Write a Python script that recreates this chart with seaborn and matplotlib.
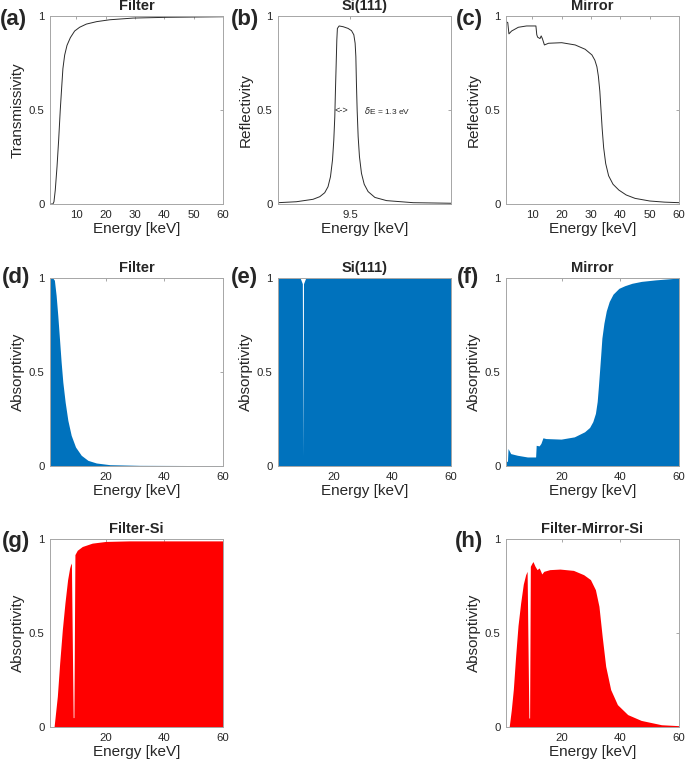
import matplotlib
matplotlib.use("Agg")
import matplotlib.pyplot as plt
import seaborn as sns

# values (energies in keV)

# (a) filter transmissivity
filter_e = [1.0, 2.0, 2.35, 2.8, 3.4, 3.95, 4.5, 5.0, 5.4, 6.0, 6.8, 7.95, 9.4, 11.1, 13.4,
            16.9, 21.4, 29.4, 40.8, 60.0]
filter_t = [0.0, 0.0, 0.012, 0.074, 0.2, 0.34, 0.5, 0.624, 0.72, 0.792, 0.844, 0.885, 0.92,
            0.94, 0.957, 0.97, 0.98, 0.989, 0.993, 0.996]

# (b) Si(111) reflectivity, offset from 9.5 keV in eV
si_de_ev = [-5.0, -3.73, -2.57, -2.1, -1.76, -1.53, -1.36, -1.22, -1.13, -1.06, -1.02, -0.97,
            -0.92, -0.88, -0.76, -0.48, -0.14, 0.1, 0.26, 0.35, 0.4, 0.44, 0.49, 0.56, 0.65,
            0.79, 0.98, 1.25, 1.72, 2.53, 4.38, 7.0]
si_r = [0.007, 0.012, 0.025, 0.039, 0.06, 0.092, 0.145, 0.234, 0.34, 0.465, 0.59, 0.73,
        0.872, 0.934, 0.947, 0.943, 0.934, 0.922, 0.9, 0.855, 0.784, 0.642, 0.5, 0.358,
        0.252, 0.163, 0.105, 0.066, 0.035, 0.018, 0.007, 0.004]

# (c) mirror reflectivity
mirror_e = [1.0, 1.6, 2.0, 2.9, 5.2, 8.0, 11.2, 11.5, 11.8, 12.6, 13.0, 13.4, 14.1, 15.5,
            20.0, 24.6, 28.0, 30.3, 31.3, 32.0, 32.5, 33.0, 33.4, 33.8, 34.3, 35.0, 36.0,
            37.5, 39.5, 42.0, 45.0, 50.0, 55.0, 60.0]
mirror_r = [0.97, 0.965, 0.905, 0.92, 0.94, 0.947, 0.947, 0.9, 0.887, 0.88, 0.894, 0.88,
            0.846, 0.855, 0.858, 0.846, 0.823, 0.793, 0.765, 0.73, 0.68, 0.6, 0.5, 0.4,
            0.3, 0.215, 0.15, 0.105, 0.074, 0.048, 0.03, 0.016, 0.01, 0.007]

# (d) filter absorptivity
filter_abs_e = [1.0, 1.94, 2.5, 3.09, 3.66, 4.23, 4.8, 5.37, 6.17, 7.09, 8.23, 9.71, 11.66,
                13.94, 16.8, 21.4, 31.7, 60.0]
filter_abs = [1.0, 1.0, 0.988, 0.908, 0.8, 0.677, 0.553, 0.447, 0.34, 0.243, 0.163, 0.101,
              0.057, 0.03, 0.016, 0.007, 0.0035, 0.002]

# (e) Si(111) absorptivity
si_abs_e = [1.0, 8.6, 9.3, 9.5, 9.7, 10.4, 60.0]
si_abs = [0.998, 0.998, 0.97, 0.05, 0.97, 0.998, 0.998]

# (f) mirror absorptivity
mirror_abs_e = [1.0, 1.5, 1.7, 2.6, 4.9, 8.3, 11.1, 11.3, 12.3, 12.9, 13.6, 14.6, 19.8, 24.3,
                27.8, 29.5, 30.6, 31.5, 32.1, 32.5, 32.9, 33.3, 33.7, 34.4, 35.2, 36.2, 37.5,
                39.5, 41.5, 44.0, 47.2, 52.0, 60.0]
mirror_abs = [0.025, 0.025, 0.093, 0.066, 0.057, 0.048, 0.048, 0.11, 0.107, 0.12, 0.15,
              0.146, 0.143, 0.155, 0.182, 0.205, 0.236, 0.28, 0.343, 0.42, 0.504, 0.59,
              0.68, 0.76, 0.825, 0.875, 0.914, 0.945, 0.959, 0.972, 0.982, 0.99, 1.0]

# (g) filter + Si absorptivity
fsi_e = [1.0, 2.2, 2.4, 3.5, 4.3, 5.2, 6.1, 7.0, 7.7, 8.0, 8.3, 8.9, 9.15, 9.5, 10.3, 12.0,
         15.4, 20.0, 28.0, 60.0]
fsi_abs = [0.0, 0.0, 0.003, 0.163, 0.34, 0.517, 0.66, 0.783, 0.846, 0.862, 0.872, 0.05, 0.05,
           0.917, 0.94, 0.96, 0.978, 0.987, 0.99, 0.99]

# (h) filter + mirror + Si absorptivity
fmsi_e = [1.0, 1.9, 2.1, 2.8, 3.5, 4.3, 5.1, 6.0, 6.9, 7.7, 8.2, 8.8, 9.05, 9.3, 9.8, 10.2,
          10.9, 11.6, 12.3, 12.7, 13.2, 13.9, 15.9, 19.4, 24.0, 27.5, 29.8, 31.5, 32.7,
          33.8, 35.0, 36.7, 39.0, 42.5, 47.1, 54.0, 60.0]
fmsi_abs = [0.0, 0.0, 0.003, 0.09, 0.2, 0.38, 0.54, 0.66, 0.76, 0.81, 0.828, 0.048, 0.048,
            0.855, 0.87, 0.88, 0.855, 0.837, 0.846, 0.833, 0.814, 0.828, 0.837, 0.84, 0.833,
            0.81, 0.784, 0.73, 0.642, 0.482, 0.323, 0.199, 0.119, 0.066, 0.035, 0.012, 0.007]

BLUE = "#0072BD"
RED = "#FF0000"
LINE = "#2b2b2b"

sns.set_theme(style="white")
plt.rcParams["font.family"] = ["Liberation Sans", "DejaVu Sans"]

W, H = 685, 765
fig = plt.figure(figsize=(W / 100, H / 100), dpi=100)


def make_ax(left, top, w=173, h=188):
    return fig.add_axes([left / W, 1 - (top + h) / H, w / W, h / H])


def style(ax, title, ylabel, xticks, xlim=(1, 60)):
    ax.set_xlim(*xlim)
    ax.set_ylim(0, 1)
    ax.set_xticks(xticks)
    ax.set_xticklabels([f"{t:g}" for t in xticks])
    ax.set_yticks([0, 0.5, 1])
    ax.set_yticklabels(["0", "0.5", "1"])
    ax.set_title(title, fontsize=10.5, fontweight="bold", pad=4)
    ax.set_ylabel(ylabel, fontsize=11, labelpad=3)
    ax.set_xlabel("Energy [keV]", fontsize=11, labelpad=2)
    ax.tick_params(direction="in", length=2.5, width=0.6, colors="#999999",
                   labelcolor="#262626", labelsize=8.2, top=True, right=True, pad=4)
    for s in ax.spines.values():
        s.set_color("#a6a6a6")
        s.set_linewidth(0.7)


cols = [50, 278, 506]
rows = [16, 278, 539]

# row 1: line plots
ax = make_ax(cols[0], rows[0])
sns.lineplot(x=filter_e, y=filter_t, ax=ax, color=LINE, lw=0.7)
style(ax, "Filter", "Transmissivity", [10, 20, 30, 40, 50, 60])

ax = make_ax(cols[1], rows[0])
si_e = [9.5 + d / 1000 for d in si_de_ev]
sns.lineplot(x=si_e, y=si_r, ax=ax, color=LINE, lw=0.7)
style(ax, "Si(111)", "Reflectivity", [9.5], xlim=(9.495, 9.507))
ax.text(9.5 - 0.6e-3, 0.5, "<->", fontsize=6.5, ha="center", va="center")
ax.text(9.5 + 0.98e-3, 0.5, r"$\delta$E = 1.3 eV", fontsize=6, ha="left", va="center")

ax = make_ax(cols[2], rows[0])
sns.lineplot(x=mirror_e, y=mirror_r, ax=ax, color=LINE, lw=0.7)
style(ax, "Mirror", "Reflectivity", [10, 20, 30, 40, 50, 60])

# row 2: component absorptivity
ax = make_ax(cols[0], rows[1])
ax.fill_between(filter_abs_e, filter_abs, color=BLUE, lw=0)
style(ax, "Filter", "Absorptivity", [20, 40, 60])

ax = make_ax(cols[1], rows[1])
ax.fill_between(si_abs_e, si_abs, color=BLUE, lw=0)
style(ax, "Si(111)", "Absorptivity", [20, 40, 60])

ax = make_ax(cols[2], rows[1])
ax.fill_between(mirror_abs_e, mirror_abs, color=BLUE, lw=0)
style(ax, "Mirror", "Absorptivity", [20, 40, 60])

# row 3: combined absorptivity
ax = make_ax(cols[0], rows[2])
ax.fill_between(fsi_e, fsi_abs, color=RED, lw=0)
style(ax, "Filter-Si", "Absorptivity", [20, 40, 60])

ax = make_ax(cols[2], rows[2])
ax.fill_between(fmsi_e, fmsi_abs, color=RED, lw=0)
style(ax, "Filter-Mirror-Si", "Absorptivity", [20, 40, 60])

# panel letters
letters = [("(a)", 0, 20), ("(b)", 231, 20), ("(c)", 456, 20),
           ("(d)", 2, 277), ("(e)", 231, 277), ("(f)", 457, 277),
           ("(g)", 2, 541), ("(h)", 455, 541)]
for lab, x, y in letters:
    fig.text(x / W, 1 - y / H, lab, fontsize=16, fontweight="bold", ha="left", va="center")

fig.savefig("out.png", dpi=100)
